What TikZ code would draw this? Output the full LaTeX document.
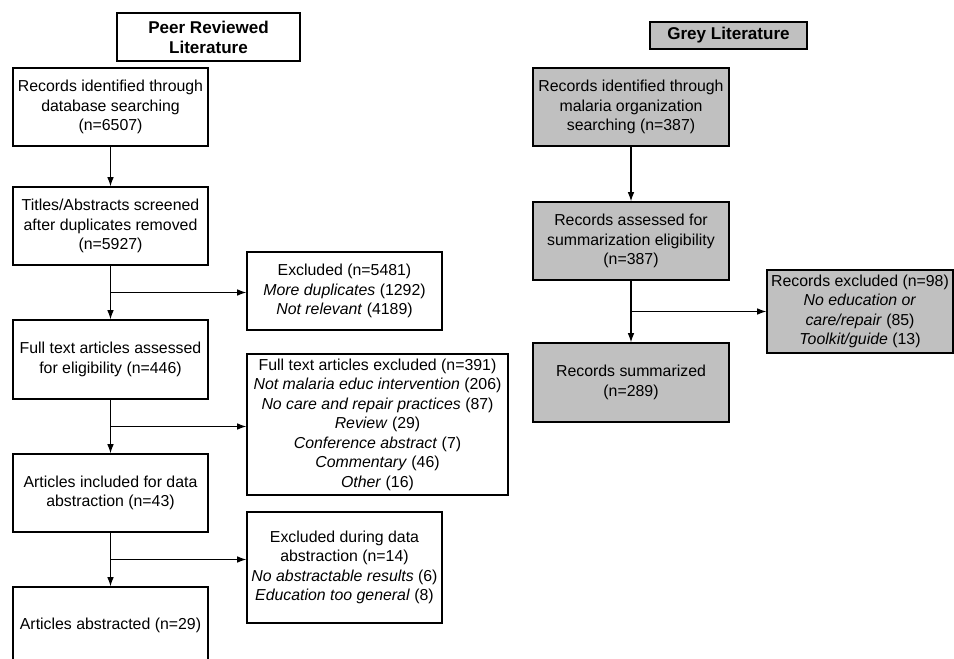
\documentclass[tikz,border=0pt]{standalone}
\usepackage{fontspec}
\setmainfont{Liberation Sans}
\usepackage{tikz}
\usetikzlibrary{arrows.meta,calc}
\definecolor{boxgrey}{RGB}{192,192,192}
\tikzset{
	box/.style={draw, line width=0.9pt, align=center, inner xsep=1.5pt, inner ysep=1pt, font=\fontsize{11.9}{14.6}\selectfont},
	greybox/.style={box, fill=boxgrey},
	headbox/.style={box, font=\fontsize{12.8}{15}\selectfont\bfseries},
	boxsize/.style 2 args={minimum width=#1*0.75pt, minimum height=#2*0.75pt},
	flow/.style={line width=0.9pt, -{Latex[length=7pt,width=5pt]}}
}
\newcommand{\stepdown}[3] % {from}{to}{excluded}
{
	\draw [flow] (#1) -- (#2);
	\coordinate (#1-#3) at ($(#1.south)!0.5!(#2.north)$);
	\draw [flow] (#1-#3) -- (#1-#3 -| #3.west);
}
\begin{document}
\begin{tikzpicture}[x=0.75pt, y=-0.75pt]
	\useasboundingbox (0,0) rectangle (954,659);

	% peer reviewed
	\node [headbox, boxsize={183}{48}] (peer) at (208.5,37) {Peer Reviewed\\Literature};
	\node [box, boxsize={195}{78}] (b1) at (110.5,107) {Records identified through\\database searching\\(n=6507)};
	\node [box, boxsize={195}{78}] (b2) at (110.5,226) {Titles/Abstracts screened\\after duplicates removed\\(n=5927)};
	\node [box, boxsize={195}{79}] (b3) at (110.5,359.5) {Full text articles assessed\\for eligibility (n=446)};
	\node [box, boxsize={195}{78}] (b4) at (110.5,493) {Articles included for data\\abstraction (n=43)};
	\node [box, boxsize={195}{77}] (b5) at (110.5,625.5) {Articles abstracted (n=29)};

	\node [box, boxsize={195}{78}] (x1) at (344.5,291) {Excluded (n=5481)\\\textit{More duplicates} (1292)\\\textit{Not relevant} (4189)};
	\node [box, boxsize={261}{141}] (x2) at (377.5,424.5) {Full text articles excluded (n=391)\\\textit{Not malaria educ intervention} (206)\\\textit{No care and repair practices} (87)\\\textit{Review} (29)\\\textit{Conference abstract} (7)\\\textit{Commentary} (46)\\\textit{Other} (16)};
	\node [box, boxsize={195}{111}] (x3) at (344.5,567.5) {Excluded during data\\abstraction (n=14)\\\textit{No abstractable results} (6)\\\textit{Education too general} (8)};

	\draw [flow] (b1) -- (b2);
	\stepdown{b2}{b3}{x1}
	\stepdown{b3}{b4}{x2}
	\stepdown{b4}{b5}{x3}

	% grey literature
	\node [headbox, fill=boxgrey, boxsize={157}{27}] (grey) at (728.5,35.5) {Grey Literature};
	\node [greybox, boxsize={196}{78}] (g1) at (631,107) {Records identified through\\malaria organization\\searching (n=387)};
	\node [greybox, boxsize={196}{78}] (g2) at (631,241) {Records assessed for\\summarization eligibility\\(n=387)};
	\node [greybox, boxsize={196}{79}] (g3) at (631,382.5) {Records summarized\\(n=289)};
	\node [greybox, boxsize={186}{83}] (gx) at (860,311.5) {Records excluded (n=98)\\\textit{No education or}\\\textit{care/repair} (85)\\\textit{Toolkit/guide} (13)};

	\draw [flow] (g1) -- (g2);
	\stepdown{g2}{g3}{gx}
\end{tikzpicture}
\end{document}
